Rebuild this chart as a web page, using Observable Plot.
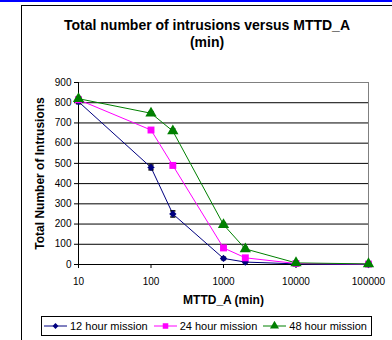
<!DOCTYPE html>
<html><head><meta charset="utf-8">
<script src="https://cdn.jsdelivr.net/npm/d3@7"></script>
<script src="https://cdn.jsdelivr.net/npm/@observablehq/plot@0.6"></script>
<style>
body{margin:0;background:#fff;font-family:"Liberation Sans",Arial,sans-serif;}
#wrap{position:relative;width:392px;height:340px;overflow:hidden;background:#fff;}
#topline{position:absolute;left:0;top:0;width:392px;height:2px;background:#0000ff;}
#frame{position:absolute;left:21px;top:5px;width:400px;height:400px;border-left:1px solid #000;border-top:1px solid #000;}
#title{position:absolute;left:21px;width:372px;top:17px;text-align:center;font-weight:bold;font-size:14px;line-height:17px;}
#chart{position:absolute;left:0;top:0;}
#legend{position:absolute;left:41px;top:316px;width:331px;height:20px;border:1px solid #000;box-sizing:border-box;display:flex;align-items:center;font-size:11px;padding-left:1px;white-space:nowrap;}
#legend .item{display:flex;align-items:center;margin-right:5px;flex-shrink:0;}
#legend svg{margin-right:2px;flex-shrink:0;}
</style>
</head><body>
<div id="wrap">
  <div id="topline"></div>
  <div id="frame"></div>
  <div id="chart"></div>
  <div id="title">Total number of intrusions versus MTTD_A<br>(min)</div>
  <div id="legend"></div>
</div>
<script>
// ---- data ----
const mttd = [10, 100, 200, 1000, 2000, 10000, 100000];
const mission12 = [805, 480, 250, 30, 12, 3, 0];
const mission24 = [815, 665, 490, 82, 33, 5, 2];
const mission48 = [820, 748, 660, 197, 77, 8, 3];
const err12 = [10, 12, 15, 6, 4, 1, 0];
const err24 = [10, 8, 10, 8, 6, 2, 1];
const err48 = [10, 8, 10, 10, 8, 3, 1];
const seriesNames = ["12 hour mission", "24 hour mission", "48 hour mission"];
const seriesColors = ["#000080", "#ff00ff", "#008000"];
const seriesSymbols = ["diamond2", "square", "triangle"];
const seriesR = [3.3, 3.9, 4.2];
const xTicks = [10, 100, 1000, 10000, 100000];
const yTicks = [0, 100, 200, 300, 400, 500, 600, 700, 800, 900];

const values = [mission12, mission24, mission48];
const errs = [err12, err24, err48];
const rows = [];
values.forEach((vals, si) => vals.forEach((v, i) => rows.push({
  series: seriesNames[si], x: mttd[i], y: v, lo: Math.max(0, v - errs[si][i]), hi: v + errs[si][i], e: errs[si][i]
})));

const capSymbol = {draw(ctx, size) { const r = 2.6; ctx.moveTo(-r, 0); ctx.lineTo(r, 0); }};

const marks = [
  Plot.gridY(yTicks.slice(1, -1), {stroke: "#000", strokeOpacity: 1, strokeWidth: 1}),
  Plot.ruleY([900], {stroke: "#808080"}),
  Plot.ruleX([100000], {stroke: "#808080"}),
  Plot.ruleX([10], {stroke: "#000"}),
  Plot.ruleY([0], {stroke: "#000"}),
  Plot.axisY({ticks: yTicks, tickSize: 4, tickPadding: 3, fontSize: 10, label: null, tickFormat: d => String(d)}),
  Plot.axisX({ticks: xTicks, tickSize: 4, tickPadding: 9, fontSize: 10, label: null, tickFormat: d => String(d)}),
  Plot.text(["Total Number of Intrusions"], {frameAnchor: "left", dx: -38, rotate: -90, textAnchor: "middle", fontWeight: "bold", fontSize: 12}),
  Plot.text(["MTTD_A (min)"], {frameAnchor: "bottom", dy: 39, fontWeight: "bold", fontSize: 12}),
];
seriesNames.forEach((name, si) => {
  const d = rows.filter(r => r.series === name);
  marks.push(Plot.line(d, {x: "x", y: "y", stroke: seriesColors[si], strokeWidth: 1}));
});
seriesNames.forEach((name, si) => {
  const d = rows.filter(r => r.series === name && r.e > 0);
  marks.push(Plot.ruleX(d, {x: "x", y1: "lo", y2: "hi", stroke: "#000", strokeWidth: 1}));
  marks.push(Plot.dot(d, {x: "x", y: "hi", symbol: capSymbol, stroke: "#000", fill: "none", r: 3}));
  marks.push(Plot.dot(d, {x: "x", y: "lo", symbol: capSymbol, stroke: "#000", fill: "none", r: 3}));
});
seriesNames.forEach((name, si) => {
  const d = rows.filter(r => r.series === name);
  marks.push(Plot.dot(d, {x: "x", y: "y", symbol: seriesSymbols[si], fill: seriesColors[si], stroke: "none", r: seriesR[si]}));
});

const chart = Plot.plot({
  width: 392, height: 340,
  marginLeft: 78, marginRight: 24, marginTop: 82, marginBottom: 76,
  style: {fontFamily: "'Liberation Sans', Arial, sans-serif", background: "transparent", color: "#000"},
  x: {type: "log", domain: [10, 100000]},
  y: {domain: [0, 900]},
  marks
});
document.getElementById("chart").appendChild(chart);

// legend
const leg = document.getElementById("legend");
const legSymbols = [d3.symbolDiamond2, d3.symbolSquare, d3.symbolTriangle];
seriesNames.forEach((name, si) => {
  const item = document.createElement("div");
  item.className = "item";
  const rr = seriesR[si] * 0.8;
  const size = rr * rr * Math.PI;
  item.innerHTML = `<svg width="25" height="10"><line x1="1" x2="24" y1="5" y2="5" stroke="${seriesColors[si]}" stroke-width="1"/>` +
    `<path transform="translate(12.5,5)" d="${d3.symbol(legSymbols[si], size)()}" fill="${seriesColors[si]}"/></svg><span>${name}</span>`;
  leg.appendChild(item);
});
</script>
</body></html>
